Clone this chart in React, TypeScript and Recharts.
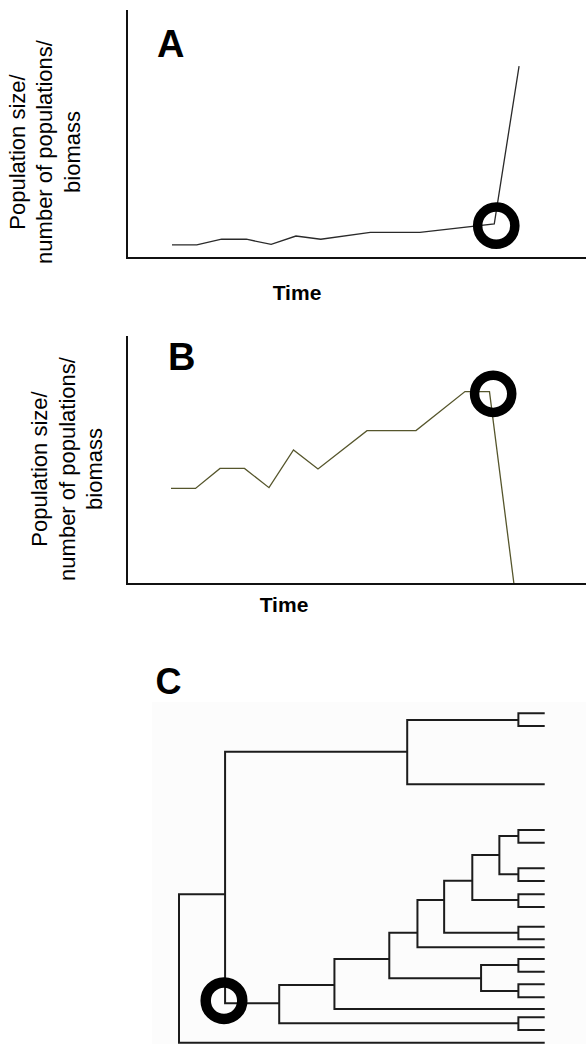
import React from 'react';
import { LineChart, Line, XAxis, YAxis, ReferenceDot } from 'recharts';

const FONT = '"Liberation Sans", Arial, Helvetica, sans-serif';

// ---- text ----
const Y_LABEL_LINES = ['Population size/', 'number of populations/', 'biomass'];
const X_LABEL = 'Time';
const PANEL_LETTERS = ['A', 'B', 'C'];

// ---- panel A: time vs population size ----
const A_TIME = [1, 2, 3, 4, 5, 6, 7, 9, 11, 14, 15];
const A_VALUES = [5.3, 5.3, 7.6, 7.6, 5.5, 8.9, 7.6, 10.4, 10.4, 13.8, 77.7];
const A_RING = { t: 14.08, v: 13.1 };

// ---- panel B ----
const B_TIME = [1, 2, 3, 4, 5, 6, 7, 9, 11, 13, 14, 15];
const B_VALUES = [38.7, 38.7, 46.8, 46.8, 39.0, 54.3, 46.6, 62.1, 62.1, 77.9, 77.9, 0];
const B_RING = { t: 14.15, v: 77.0 };

// ---- panel C: phylogeny [id, parent, depth(time), vertical position] ----
const TREE_NODES: [string, string | null, number, number][] = [
  ['root', null, 0, 0],
  ['n1', 'root', 12.6, 234.3],
  ['out', 'root', 100, 382.7],
  ['n2', 'n1', 62.4, 91.7],
  ['n3', 'n1', 27.4, 343.3],
  ['p1', 'n2', 92.8, 60],
  ['l3', 'n2', 100, 124.3],
  ['l1', 'p1', 100, 53.3],
  ['l2', 'p1', 100, 66],
  ['n4', 'n3', 42.5, 325],
  ['p10', 'n3', 92.8, 363.3],
  ['l18', 'p10', 100, 357.3],
  ['l19', 'p10', 100, 370],
  ['n5', 'n4', 57.5, 299],
  ['l17', 'n4', 100, 349],
  ['n6', 'n5', 65.2, 272.7],
  ['n5b', 'n5', 82.6, 318.3],
  ['p8', 'n5b', 92.8, 305],
  ['p9', 'n5b', 92.8, 331],
  ['l13', 'p8', 100, 299],
  ['l14', 'p8', 100, 311.7],
  ['l15', 'p9', 100, 324.3],
  ['l16', 'p9', 100, 337.3],
  ['n7', 'n6', 72.5, 240],
  ['l12', 'n6', 100, 287.3],
  ['n8', 'n7', 80.2, 220.7],
  ['p6', 'n7', 92.8, 272.7],
  ['l10', 'p6', 100, 266.7],
  ['l11', 'p6', 100, 279.3],
  ['n9', 'n8', 87.6, 195],
  ['p5', 'n8', 92.8, 240],
  ['l8', 'p5', 100, 234.3],
  ['l9', 'p5', 100, 247],
  ['p3', 'n9', 92.8, 176],
  ['l4', 'p3', 100, 170],
  ['l5', 'p3', 100, 182.7],
  ['p4', 'n9', 92.8, 214.3],
  ['l6', 'p4', 100, 208.3],
  ['l7', 'p4', 100, 221],
];
const C_RING = { x: 12.3, y: 340.7 };

const rowsOf = (t: number[], v: number[]) => t.map((time, i) => ({ time, value: v[i] }));

function brackets() {
  const byId: Record<string, { x: number; y: number }> = {};
  TREE_NODES.forEach(([id, , x, y]) => (byId[id] = { x, y }));
  const out: { id: string; points: { x: number; y: number }[] }[] = [];
  TREE_NODES.forEach(([id]) => {
    const kids = TREE_NODES.filter((n) => n[1] === id).map((n) => ({ x: n[2], y: n[3] }));
    if (kids.length < 2) return;
    kids.sort((a, b) => a.y - b.y);
    const me = byId[id];
    const top = kids[0];
    const bot = kids[kids.length - 1];
    const pts = [
      { x: top.x, y: top.y },
      { x: me.x, y: top.y },
      { x: me.x, y: bot.y },
      { x: bot.x, y: bot.y },
    ];
    out.push({ id, points: pts });
    kids.slice(1, -1).forEach((k, i) =>
      out.push({ id: id + '_m' + i, points: [{ x: me.x, y: k.y }, { x: k.x, y: k.y }] })
    );
  });
  return out;
}

const axisLine = { stroke: '#111', strokeWidth: 2, strokeLinecap: 'square' as const };

type PanelProps = {
  rows: { time: number; value: number }[];
  domain: [number, number];
  top: number;
  margin: { top: number; right: number; bottom: number; left: number };
  letter: string;
  letterX: number;
  letterY: number;
  labelX: number;
  labelY: number;
  timeX: number;
  timeY: number;
  ring: { t: number; v: number };
  stroke: string;
};

function Panel(p: PanelProps) {
  return (
    <div style={{ position: 'absolute', left: 0, top: p.top, width: 586, height: 310 }}>
      <LineChart width={586} height={310} data={p.rows} margin={p.margin}>
        <XAxis
          dataKey="time"
          type="number"
          domain={p.domain}
          allowDataOverflow
          tick={false}
          tickLine={false}
          axisLine={axisLine}
          height={1}
        />
        <YAxis
          type="number"
          domain={[0, 100]}
          allowDataOverflow
          tick={false}
          tickLine={false}
          axisLine={axisLine}
          width={1}
        />
        <Line
          dataKey="value"
          type="linear"
          stroke={p.stroke}
          strokeWidth={1.3}
          dot={false}
          activeDot={false}
          isAnimationActive={false}
        />
        <ReferenceDot x={p.ring.t} y={p.ring.v} r={18.6} fill="none" stroke="#000" strokeWidth={9.5} />
        <text x={p.letterX} y={p.letterY} fontFamily={FONT} fontWeight="bold" fontSize={38} fill="#000">
          {p.letter}
        </text>
        <text
          transform={`translate(${p.labelX},${p.labelY}) rotate(-90)`}
          textAnchor="middle"
          fontFamily={FONT}
          fontSize={22}
          fill="#000"
        >
          {Y_LABEL_LINES.map((l, i) => (
            <tspan key={i} x={0} dy={i === 0 ? 0 : 27.5}>
              {l}
            </tspan>
          ))}
        </text>
        <text x={p.timeX} y={p.timeY} textAnchor="middle" fontFamily={FONT} fontWeight="bold" fontSize={21} fill="#000">
          {X_LABEL}
        </text>
      </LineChart>
    </div>
  );
}

export default function App() {
  const br = brackets();
  return (
    <div style={{ position: 'absolute', left: 0, top: 0, width: 586, height: 1044, background: '#fff', overflow: 'hidden' }}>
      <Panel
        rows={rowsOf(A_TIME, A_VALUES)}
        domain={[-0.815, 17.7]}
        top={0}
        margin={{ top: 11, right: 0, bottom: 51, left: 126 }}
        letter={PANEL_LETTERS[0]}
        letterX={157}
        letterY={57}
        labelX={24.6}
        labelY={152}
        timeX={297}
        timeY={300}
        ring={A_RING}
        stroke="#2a2a2a"
      />
      <Panel
        rows={rowsOf(B_TIME, B_VALUES)}
        domain={[-0.796, 17.94]}
        top={320}
        margin={{ top: 17, right: 0, bottom: 45, left: 126 }}
        letter={PANEL_LETTERS[1]}
        letterX={168}
        letterY={50}
        labelX={47.3}
        labelY={149}
        timeX={284}
        timeY={292}
        ring={B_RING}
        stroke="#56562c"
      />
      <div style={{ position: 'absolute', left: 152, top: 702, width: 434, height: 342, background: '#fcfcfc' }} />
      <div style={{ position: 'absolute', left: 0, top: 660, width: 586, height: 384 }}>
        <LineChart width={586} height={384} margin={{ top: 0, right: 0, bottom: 0, left: 150 }}>
          <XAxis dataKey="x" type="number" domain={[-7.93, 111.29]} allowDataOverflow hide height={0} />
          <YAxis type="number" domain={[0, 384]} reversed allowDataOverflow hide width={0} />
          {br.map((b) => (
            <Line
              key={b.id}
              data={b.points}
              dataKey="y"
              type="linear"
              stroke="#1c1c1c"
              strokeWidth={2}
              dot={false}
              activeDot={false}
              isAnimationActive={false}
            />
          ))}
          <ReferenceDot x={C_RING.x} y={C_RING.y} r={18.3} fill="none" stroke="#000" strokeWidth={10.5} />
          <text x={155.5} y={34} fontFamily={FONT} fontWeight="bold" fontSize={36} fill="#000">
            {PANEL_LETTERS[2]}
          </text>
        </LineChart>
      </div>
    </div>
  );
}
